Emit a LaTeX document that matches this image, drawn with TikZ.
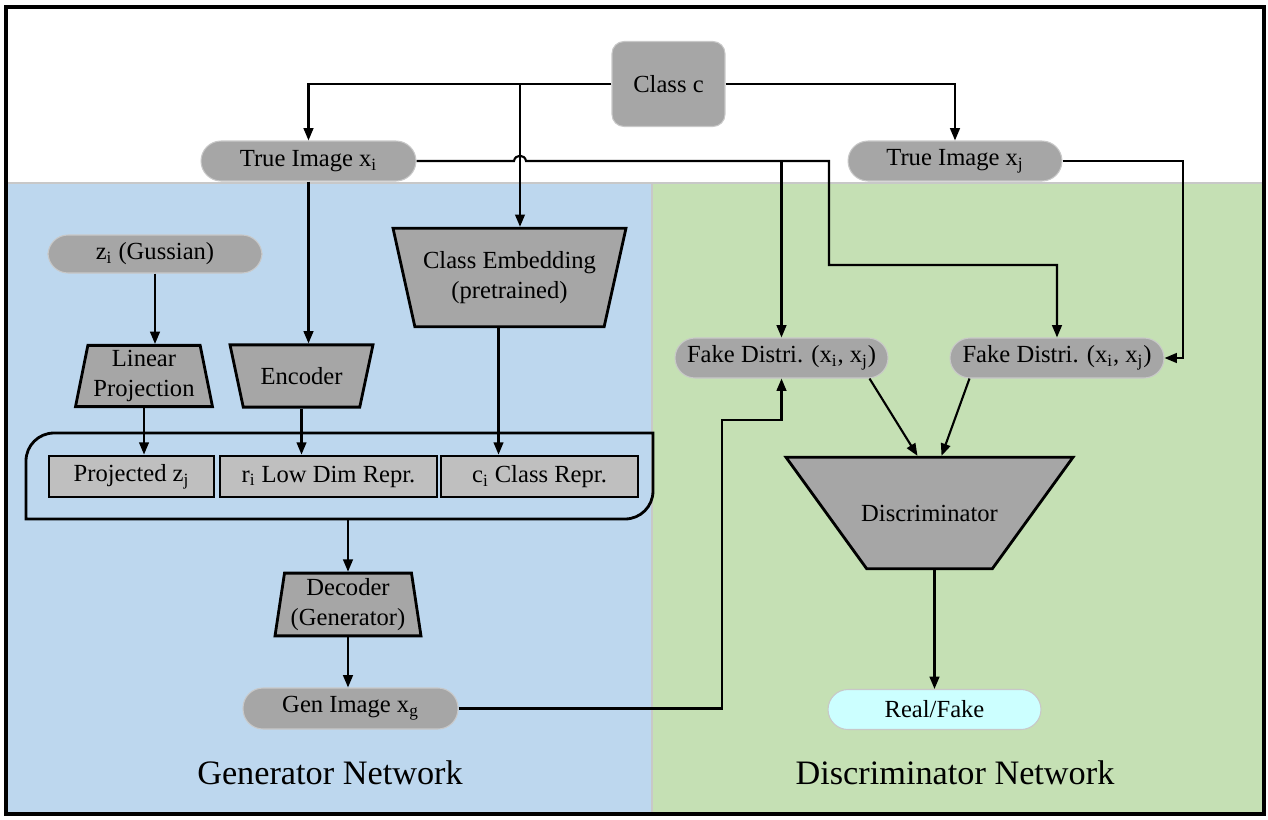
\documentclass[tikz,border=0pt]{standalone}
\usepackage{fontspec}
\setmainfont{Liberation Serif}
\usetikzlibrary{shapes.geometric}
\usetikzlibrary{arrows.meta}
\definecolor{boxgray}{HTML}{A6A6A6}
\definecolor{reprgray}{HTML}{BFBFBF}
\definecolor{edgegray}{HTML}{C8C8C8}
\definecolor{genblue}{HTML}{BDD7EE}
\definecolor{discgreen}{HTML}{C5E0B4}
\definecolor{outcyan}{HTML}{CCFFFF}
\tikzset{pill/.style = {font=\fontsize{14}{17}\selectfont, draw=edgegray, line width=0.6pt, fill=boxgray, rounded corners=0.4cm, minimum height=0.8cm, inner sep=1pt}}
\tikzset{netbox/.style = {font=\fontsize{14}{17}\selectfont, align=center, draw, line width=1.6pt, fill=boxgray, trapezium, trapezium stretches body=true, inner xsep=0pt}}
\tikzset{repr/.style = {font=\fontsize{14}{17}\selectfont, draw, line width=1.6pt, fill=reprgray, minimum height=0.82cm, inner sep=1pt}}
\tikzset{netname/.style = {font=\fontsize{19.5}{22}\selectfont}}

\begin{document}
\begin{tikzpicture}[x=0.02cm, y=-0.02cm, >={Triangle[length=7pt,width=5.5pt]}, line width=1.2pt]
\useasboundingbox (0,0) rectangle (1268,819);
\fill[genblue] (7,183) rectangle (652,813);
\fill[discgreen] (652,183) rectangle (1263,813);
\draw[edgegray, line width=1.2pt] (7,183) -- (1263,183) (652,183) -- (652,813);
\draw[line width=2.2pt] (6,7) rectangle (1264,814);

\node[pill, minimum width=2.26cm, rounded corners=0.24cm, minimum height=1.7cm](cc) at (668.5,84) {Class c};
\node[pill, minimum width=4.3cm](xi) at (308.5,161) {True Image x\textsubscript{i}};
\node[pill, minimum width=4.28cm](xj) at (955,161) {True Image x\textsubscript{j}};
\node[pill, minimum width=4.28cm, minimum height=0.76cm](z) at (155,254) {z\textsubscript{i} (Gussian)};
\node[netbox, minimum width=2.74cm, inner ysep=2.8pt, trapezium angle=78.6](lin) at (144,376) {Linear\\Projection};
\node[netbox, minimum width=2.86cm, inner ysep=12.8pt, trapezium angle=102](enc) at (301.5,376) {Encoder};
\node[netbox, minimum width=4.66cm, inner ysep=13.2pt, trapezium angle=102.5](emb) at (509.5,277.5) {Class Embedding\\(pretrained)};
\node[repr, minimum width=3.3cm](pz) at (131.5,476.5) {Projected z\textsubscript{j}};
\node[repr, minimum width=4.34cm](rr) at (328.5,476.5) {r\textsubscript{i} Low Dim Repr.};
\node[repr, minimum width=3.94cm](cr) at (539.5,476.5) {c\textsubscript{i} Class Repr.};
\node[netbox, minimum width=2.92cm, inner ysep=3pt, trapezium angle=81.4](dec) at (348,604.5) {Decoder\\(Generator)};
\node[pill, minimum width=4.3cm, minimum height=0.82cm](gen) at (350.5,708.5) {Gen Image x\textsubscript{g}};
\node[pill, minimum width=4.26cm](fake1) at (781.5,358) {Fake Distri. (x\textsubscript{i}, x\textsubscript{j})};
\node[pill, minimum width=4.28cm](fake2) at (1057,358) {Fake Distri. (x\textsubscript{i}, x\textsubscript{j})};
\node[netbox, minimum width=5.74cm, inner ysep=27pt, trapezium angle=125.9](disc) at (929.5,513) {\makebox[1.8cm][c]{Discriminator}};
\node[pill, fill=outcyan, minimum width=4.26cm](rf) at (934.5,709.5) {Real/Fake};
\node[netname](gname) at (330,773) {Generator Network};
\node[netname](dname) at (955,773) {Discriminator Network};

\draw[line width=1.6pt] (26,519) -- (26,461) arc (180:90:0.56cm) -- (653,433) -- (653,491) arc (0:-90:0.56cm) -- cycle;
\coordinate (grp) at (349,519);
\coordinate (split) at (520,84);

\draw[->] (cc.west) -| (xi.north);
\draw[->] (cc.east) -| (xj.north);
\draw[->] (split) -- (split |- emb.north);
\draw[->] (xi.east) -- (514,161) .. controls (515,154) and (525,154) .. (526,161) -- (829,161) -- (829,265) -| (fake2.north);
\draw[->] (fake1.north |- xi.east) -- (fake1.north);
\draw[->] (xj.east) -- (1183,161) |- (fake2.east);
\draw[->] (gen.east) -| (722,420) -| (fake1.south);
\draw[->] ([xshift=-0.38cm]fake1.south east) -- ([xshift=-0.24cm]disc.north);
\draw[->] ([xshift=0.4cm]fake2.south west) -- ([xshift=0.24cm]disc.north);
\draw[->] (disc.south -| rf.north) -- (rf.north);
\draw[->] (z.south) -- (z.south |- lin.north);
\draw[->] (lin.south) -- (lin.south |- pz.north);
\draw[->] (xi.south) -- (xi.south |- enc.north);
\draw[->] (enc.south) -- (enc.south |- rr.north);
\draw[->] ([xshift=-0.22cm]emb.south) -- ([xshift=-0.22cm]emb.south |- cr.north);
\draw[->] (dec.north |- grp) -- (dec.north);
\draw[->] (dec.south) -- (dec.south |- gen.north);
\end{tikzpicture}
\end{document}
